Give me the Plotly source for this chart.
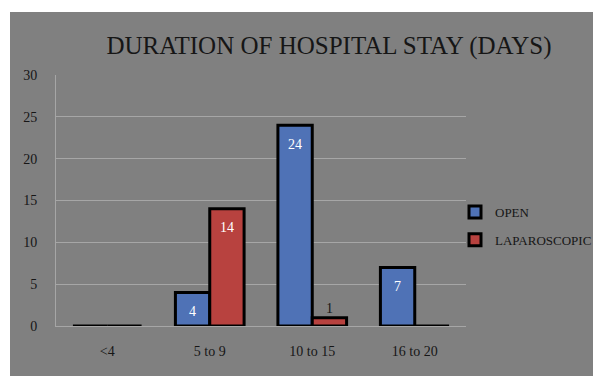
import plotly.graph_objects as go

# Length-of-stay groups and patient counts per surgical approach
categories = ["<4", "5 to 9", "10 to 15", "16 to 20"]
open_counts = [0, 4, 24, 7]
lap_counts = [0, 14, 1, 0]
y_ticks = [0, 5, 10, 15, 20, 25, 30]

W, H = 593, 376
M_L, M_R, M_T, M_B = 56, 127, 75, 50
PANEL = "#808080"
TXT = "#161616"
FONT = "Liberation Serif, Times New Roman, serif"
BARGAP = 0.33


def px_to_paper_x(px):
    return (px - M_L) / (W - M_L - M_R)


def px_to_paper_y(py):
    return (H - M_B - py) / (H - M_T - M_B)


fig = go.Figure()
series = [("OPEN", open_counts, "#4f72b6"),
          ("LAPAROSCOPIC", lap_counts, "#b8423f")]
for name, vals, color in series:
    fig.add_trace(go.Bar(
        x=categories, y=vals, name=name, legendgroup=name,
        marker=dict(color=color, line=dict(color="black", width=3)),
        cliponaxis=False,
    ))

# value labels: inside near the top for tall bars, just above short ones
cat_px = (W - M_L - M_R) / len(categories)
bar_px = cat_px * (1 - BARGAP) / len(series)
for k, (name, vals, color) in enumerate(series):
    dx = (k - (len(series) - 1) / 2) * bar_px
    for cat, v in zip(categories, vals):
        if not v:
            continue
        inside = v >= 3
        fig.add_annotation(
            x=cat, y=v, text=str(v), showarrow=False,
            xshift=dx, yshift=-19 if inside else 0,
            yanchor="middle" if inside else "bottom",
            font=dict(size=14, family=FONT,
                      color="white" if inside else TXT))

# white margin around the grey panel
fig.add_shape(type="rect", xref="paper", yref="paper",
              x0=px_to_paper_x(0), x1=px_to_paper_x(W),
              y0=px_to_paper_y(12), y1=px_to_paper_y(0),
              fillcolor="white", line_width=0, layer="below")
fig.add_shape(type="rect", xref="paper", yref="paper",
              x0=px_to_paper_x(0), x1=px_to_paper_x(10),
              y0=px_to_paper_y(H), y1=px_to_paper_y(0),
              fillcolor="white", line_width=0, layer="below")

fig.update_layout(
    width=W, height=H,
    margin=dict(l=M_L, r=M_R, t=M_T, b=M_B, autoexpand=False),
    paper_bgcolor=PANEL, plot_bgcolor=PANEL,
    barmode="group", bargap=BARGAP, bargroupgap=0,
    font=dict(family=FONT, color=TXT, size=14),
    title=dict(text="DURATION OF HOSPITAL STAY (DAYS)",
               x=px_to_paper_x(329), xref="paper", xanchor="center",
               y=1 - 45 / H, yanchor="middle",
               font=dict(size=25, family=FONT, color=TXT)),
    legend=dict(x=px_to_paper_x(455), y=px_to_paper_y(197), xref="paper",
                yref="paper", xanchor="left", yanchor="top",
                font=dict(size=13, family=FONT, color=TXT),
                itemwidth=30, tracegroupgap=8, bgcolor="rgba(0,0,0,0)"),
    showlegend=True,
)
fig.update_xaxes(showgrid=False, showline=True, linecolor="#a6a6a6",
                 linewidth=1, ticks="", ticklabelstandoff=12,
                 tickfont=dict(size=14, family=FONT, color=TXT))
fig.update_yaxes(range=[0, 30], tickvals=y_ticks, showgrid=True,
                 gridcolor="#a6a6a6", gridwidth=1, showline=True,
                 linecolor="#a6a6a6", zeroline=False, ticks="",
                 ticklabelstandoff=15,
                 tickfont=dict(size=14, family=FONT, color=TXT))

fig.write_html("out.html")
